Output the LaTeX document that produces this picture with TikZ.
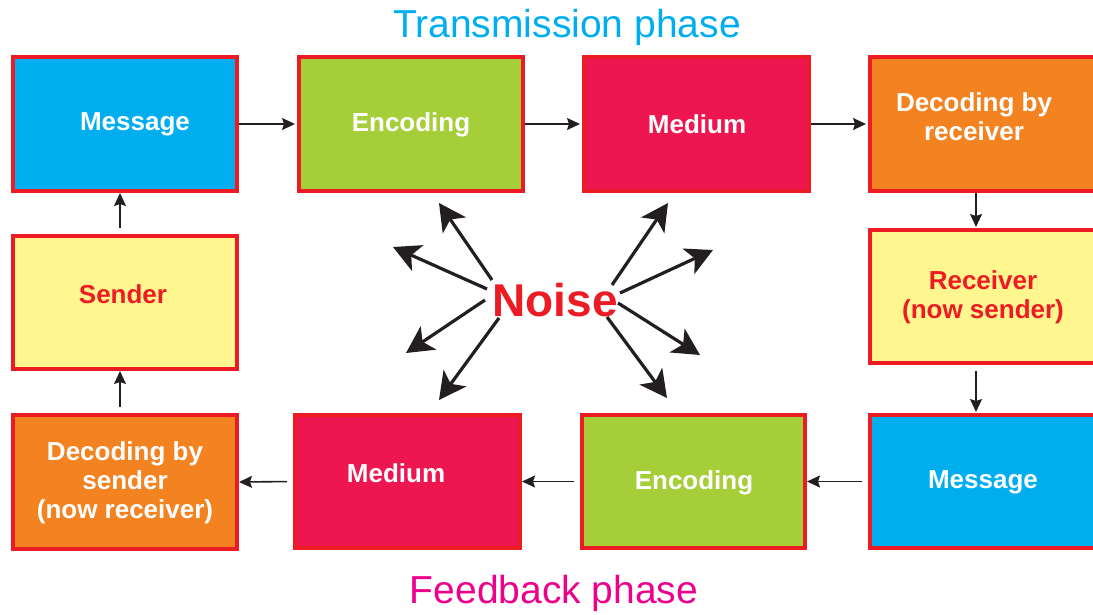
\documentclass[tikz,border=0pt]{standalone}
\usepackage{fontspec}
\setmainfont{Liberation Sans}
\usetikzlibrary{arrows.meta}
\definecolor{cblue}{HTML}{00AEEF}
\definecolor{cgreen}{HTML}{A6CE39}
\definecolor{cmed}{HTML}{ED1651}
\definecolor{corange}{HTML}{F38321}
\definecolor{cyellow}{HTML}{FFF68F}
\definecolor{cred}{HTML}{ED1C24}
\definecolor{cdark}{HTML}{231F20}
\definecolor{cmagenta}{HTML}{EC008C}
\tikzset{
  box/.style={draw=cred, line width=4pt, rectangle, inner sep=0pt},
  wtext/.style={text=white, font=\bfseries\fontsize{26}{29}\selectfont, align=center, inner sep=0pt, anchor=base},
  rtext/.style={text=cred, font=\bfseries\fontsize{26}{29}\selectfont, align=center, inner sep=0pt, anchor=base},
  conn/.style={draw=cdark, line width=1.6pt, -{Stealth[length=13pt,width=12pt,inset=2pt]}},
  noisearrow/.style={draw=cdark, line width=3.2pt, -{Stealth[length=27pt,width=28pt,inset=7pt]}},
  title/.style={font=\fontsize{39}{44}\selectfont, inner sep=0pt, anchor=base}
}
\begin{document}
\begin{tikzpicture}[x=1pt,y=-1pt]
\useasboundingbox (0,0) rectangle (1093,614);
% boxes (path size = outer - line width)
\node[box, fill=cblue, minimum width=224pt, minimum height=134pt] (msgT) at (125,124) {};
\node[box, fill=cgreen, minimum width=224pt, minimum height=134pt] (encT) at (411,124) {};
\node[box, fill=cmed, minimum width=225pt, minimum height=134pt] (medT) at (696.5,124) {};
\node[box, fill=corange, minimum width=232pt, minimum height=134pt] (decR) at (986,124) {};
\node[box, fill=cyellow, minimum width=224pt, minimum height=133pt] (send) at (125,302.5) {};
\node[box, fill=cyellow, minimum width=232pt, minimum height=133pt] (recv) at (986,296.5) {};
\node[box, fill=corange, minimum width=224pt, minimum height=134pt] (decS) at (125,482) {};
\node[box, fill=cmed, minimum width=225pt, minimum height=133pt] (medB) at (407.5,481.5) {};
\node[box, fill=cgreen, minimum width=223pt, minimum height=133pt] (encB) at (693.5,481.5) {};
\node[box, fill=cblue, minimum width=232pt, minimum height=133pt] (msgB) at (986,481.5) {};
% texts
\node[wtext] (tmsgT) at (135,130) {Message};
\node[wtext] (tencT) at (411,131) {Encoding};
\node[wtext] (tmedT) at (697,133) {Medium};
\node[wtext] (tdecR) at (974,140) {Decoding by\\receiver};
\node[rtext] (tsend) at (123,303) {Sender};
\node[rtext] (trecv) at (983,318) {Receiver\\(now sender)};
\node[wtext] (tdecS) at (125,518) {Decoding by\\sender\\(now receiver)};
\node[wtext] (tmedB) at (396,482) {Medium};
\node[wtext] (tencB) at (694,489) {Encoding};
\node[wtext] (tmsgB) at (983,488) {Message};
% titles
\node[title, text=cblue] (ttrans) at (567,37) {Transmission phase};
\node[title, text=cmagenta] (tfeed) at (554,603) {Feedback phase};
% connectors
\draw[conn, shorten >=2pt] (msgT.east) -- (encT.west);
\draw[conn, shorten >=2pt] (encT.east) -- (medT.west);
\draw[conn, shorten >=2pt] (medT.east) -- (decR.west);
\draw[conn, shorten >=1pt] (decR.south -| 976,0) -- (recv.north -| 976,0);
\draw[conn, shorten <=6pt, shorten >=1pt] (recv.south -| 976,0) -- (msgB.north -| 976,0);
\draw[conn, shorten <=6pt] (msgB.west) -- (encB.east);
\draw[conn, shorten <=6pt] (encB.west) -- (medB.east);
\draw[conn, shorten <=6pt] (medB.west) -- (decS.east);
\draw[conn, shorten <=6pt] (decS.north -| 120,0) -- (send.south -| 120,0);
\draw[conn, shorten <=6pt] (send.north -| 120,0) -- (msgT.south -| 120,0);
% noise
\node[text=cred, font=\bfseries\fontsize{46}{50}\selectfont, inner sep=0pt, anchor=base] (noise) at (555,316) {Noise};
\coordinate (a1s) at (492,280); \coordinate (a1e) at (439,203);
\coordinate (a2s) at (487,289); \coordinate (a2e) at (393,247);
\coordinate (a3s) at (485,300); \coordinate (a3e) at (406,353);
\coordinate (a4s) at (499,318); \coordinate (a4e) at (439,400);
\coordinate (a5s) at (612,285); \coordinate (a5e) at (668,203);
\coordinate (a6s) at (620,293); \coordinate (a6e) at (713,250);
\coordinate (a7s) at (618,303); \coordinate (a7e) at (700,355);
\coordinate (a8s) at (607,317); \coordinate (a8e) at (667,398);
\foreach \i in {1,...,8} { \draw[noisearrow] (a\i s) -- (a\i e); }
\end{tikzpicture}
\end{document}
